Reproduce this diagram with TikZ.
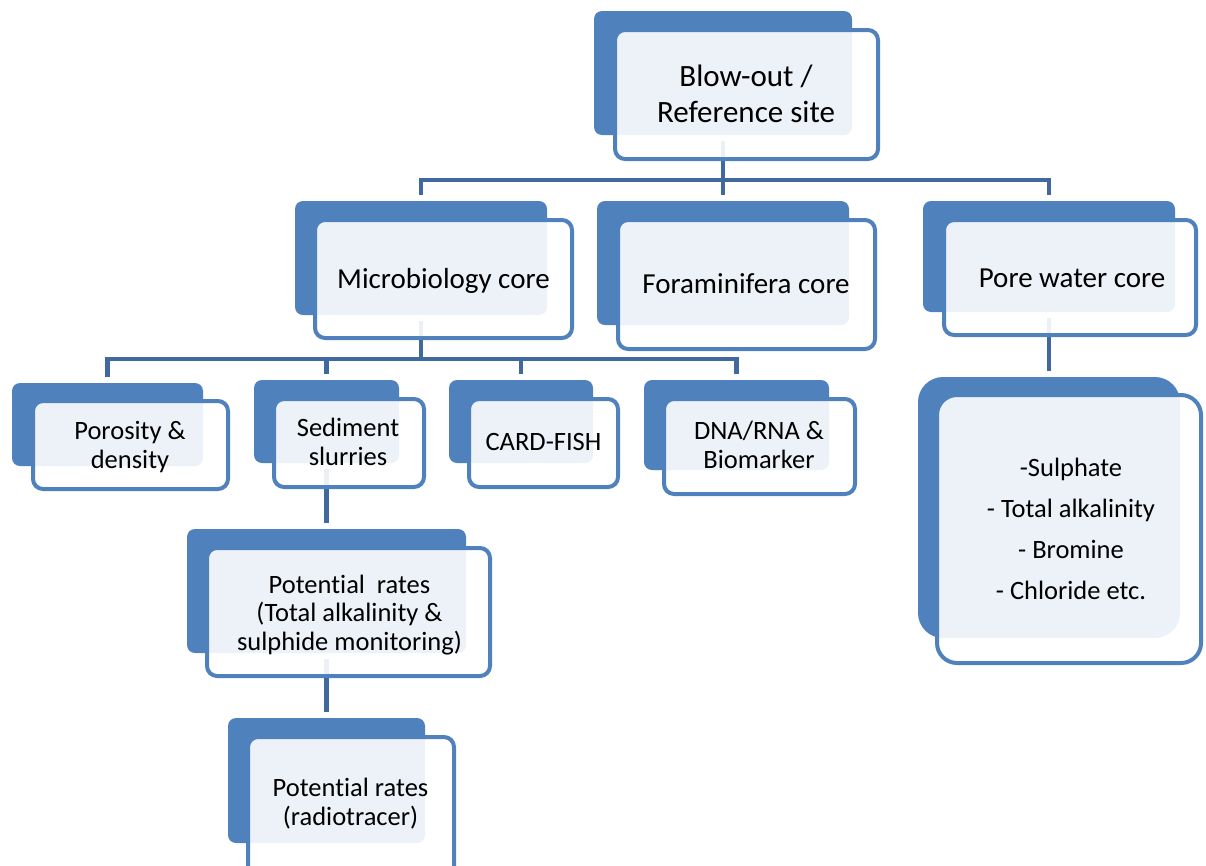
\documentclass[tikz,border=0pt]{standalone}
\usepackage{fontspec}
\setmainfont{Carlito}[Ligatures={NoCommon}]
\usetikzlibrary{fit}
\definecolor{accent}{RGB}{79,129,189}
\definecolor{linkc}{RGB}{64,105,157}
\pgfdeclarelayer{background}
\pgfsetlayers{background,main}
\begin{document}
\begin{tikzpicture}[x=1pt,y=-1pt,
  backbox/.style={fill=accent, draw=none, rounded corners=8pt, inner sep=0pt, fit={#1}},
  frontbox/.style={draw=accent, line width=4pt, fill=white, fill opacity=0.9, rounded corners=10pt, inner sep=0pt, fit={#1}},
  txtA/.style={font=\fontsize{31}{35.5}\selectfont, align=center, anchor=base, text=black},
  txtB/.style={font=\fontsize{29}{33}\selectfont, align=center, anchor=base, text=black},
  txtC/.style={font=\fontsize{26.5}{28.5}\selectfont, align=center, anchor=base, text=black},
  conn/.style={draw=linkc, line width=4.5pt}]
\useasboundingbox (0,0) rectangle (1206,865);

% top
\node[backbox={(594,11)(852,135)}] (topB) {};
\node[frontbox={(615,30)(878,159)}] (topF) {};
\node[txtA] (topT) at (746,122) {Blow-out /\\Reference site};

% mid row
\node[backbox={(295,201)(547,315)}] (microB) {};
\node[frontbox={(315,220)(572,338)}] (microF) {};
\node[txtB] (microT) at (443.5,288) {Microbiology core};

\node[backbox={(597,201)(849,325)}] (foramB) {};
\node[frontbox={(618,220)(875,349)}] (foramF) {};
\node[txtB] (foramT) at (746,293) {Foraminifera core};

\node[backbox={(923,201)(1175,312)}] (poreB) {};
\node[frontbox={(944,220)(1196,335)}] (poreF) {};
\node[txtB] (poreT) at (1072,287) {Pore water core};

% lower row
\node[backbox={(12,383)(203,466)}] (porosB) {};
\node[frontbox={(33,401)(228,489)}] (porosF) {};
\node[txtC] (porosT) at (130,468) {Porosity \&\\density};

\node[backbox={(254,380)(399,463)}] (sedB) {};
\node[frontbox={(274,399)(424,487)}] (sedF) {};
\node[txtC] (sedT) at (348,465) {Sediment\\slurries};

\node[backbox={(449,380)(593,463)}] (cardB) {};
\node[frontbox={(469,399)(618,487)}] (cardF) {};
\node[txtC] (cardT) at (543.5,450) {CARD-FISH};

\node[backbox={(644,380)(829,470)}] (dnaB) {};
\node[frontbox={(664,399)(855,494)}] (dnaF) {};
\node[txtC] (dnaT) at (759,468) {DNA/RNA \&\\Biomarker};

% pore water list
\node[backbox={(918,377)(1180,638)}, rounded corners=25pt] (plistB) {};
\node[frontbox={(937,395)(1201,663)}, rounded corners=20pt] (plistF) {};
\node[txtC, font=\fontsize{26.5}{40.7}\selectfont] (plistT) at (1071,599)
  {-Sulphate\\- Total alkalinity\\- Bromine\\- Chloride etc.};

% potential rates
\node[backbox={(187,529)(466,653)}] (pot1B) {};
\node[frontbox={(207,548)(490,676)}] (pot1F) {};
\node[txtC] (pot1T) at (349.5,650) {Potential\ \ rates\\(Total alkalinity \&\\sulphide monitoring)};

\node[backbox={(228,718)(425,843)}] (pot2B) {};
\node[frontbox={(248,737)(454,885)}] (pot2F) {};
\node[txtC] (pot2T) at (350.5,825) {Potential rates\\(radiotracer)};

% connectors
\coordinate (busA) at (723,180);
\coordinate (busB) at (421,359);
\begin{pgfonlayer}{background}
\draw[conn] ([yshift=-6pt]topB.south) -- (busA);
\draw[conn] ([yshift=6pt]microB.north) |- (busA) -| ([yshift=6pt]poreB.north);
\draw[conn] (busA) -- ([yshift=6pt]foramB.north);
\draw[conn] ([yshift=-6pt]microB.south) -- (busB);
\draw[conn] ([yshift=6pt]porosB.north) |- (busB) -| ([yshift=6pt]dnaB.north);
\draw[conn] ([yshift=6pt]sedB.north) -- (sedB.north |- busB);
\draw[conn] ([yshift=6pt]cardB.north) -- (cardB.north |- busB);
\draw[conn] ([yshift=-6pt]poreB.south) -- ([yshift=6pt]plistB.north);
\draw[conn] ([yshift=-6pt]sedB.south) -- ([yshift=6pt]pot1B.north);
\draw[conn] ([yshift=-6pt]pot1B.south) -- ([yshift=6pt]pot2B.north);
\end{pgfonlayer}
\end{tikzpicture}
\end{document}
